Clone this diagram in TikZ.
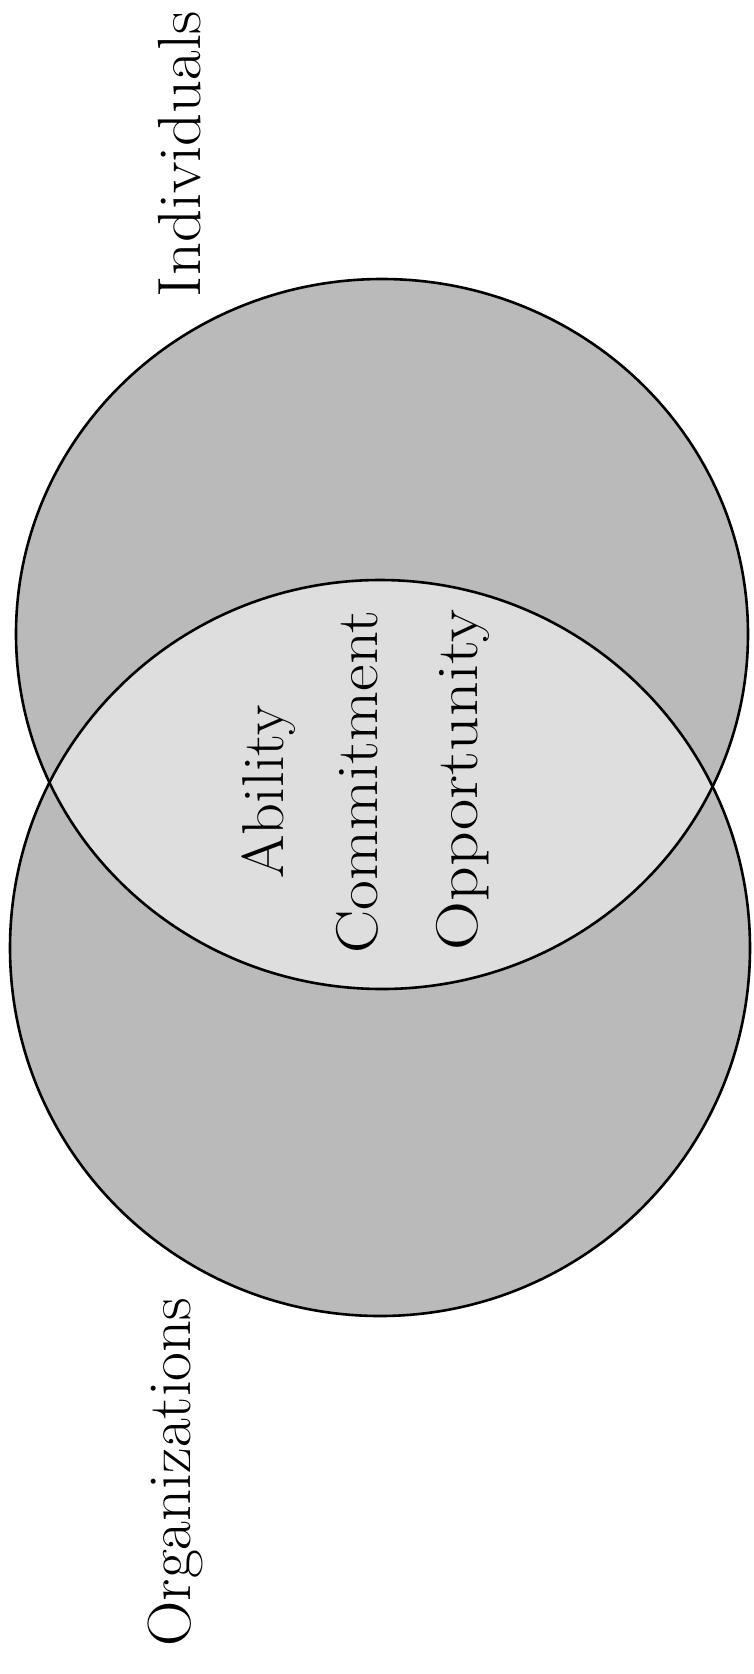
\documentclass[tikz,border=0pt]{standalone}
\usepackage{fontspec}
\usepackage{graphicx}
\definecolor{outergray}{RGB}{186,186,186}
\definecolor{lensgray}{RGB}{222,222,222}
\begin{document}
\begin{tikzpicture}[x=1pt,y=-1pt,
  ring/.style={line width=2.6pt, draw=black},
  sidelabel/.style={rotate=90, anchor=base, inner sep=0pt, font=\fontsize{61}{70}\selectfont},
  midtext/.style={rotate=90, anchor=base, inner sep=0pt, font=\fontsize{59}{70}\selectfont}]
\useasboundingbox (0,0) rectangle (753,1674);
\fill[white] (0,0) rectangle (753,1674);
% circles
\fill[outergray] (382,634) ellipse [x radius=366pt, y radius=355pt];
\fill[outergray] (380,948) ellipse [x radius=370pt, y radius=368pt];
\begin{scope}
  \clip (382,634) ellipse [x radius=366pt, y radius=355pt];
  \fill[lensgray] (380,948) ellipse [x radius=370pt, y radius=368pt];
\end{scope}
\draw[ring] (382,634) ellipse [x radius=366pt, y radius=355pt];
\draw[ring] (380,948) ellipse [x radius=370pt, y radius=368pt];
% labels
\node[sidelabel] (org) at (190,1472) {\scalebox{1.03}[1]{Organizations}};
\node[sidelabel] (ind) at (200,154) {\scalebox{1.06}[1]{Individuals}};
\node[midtext] (abil) at (283,792) {\scalebox{1.06}[1]{Ability}};
\node[midtext] (comm) at (377,782) {\scalebox{1.10}[1]{Commitment}};
\node[midtext] (opp) at (477,780) {\scalebox{1.15}[1]{Opportunity}};
\end{tikzpicture}
\end{document}
